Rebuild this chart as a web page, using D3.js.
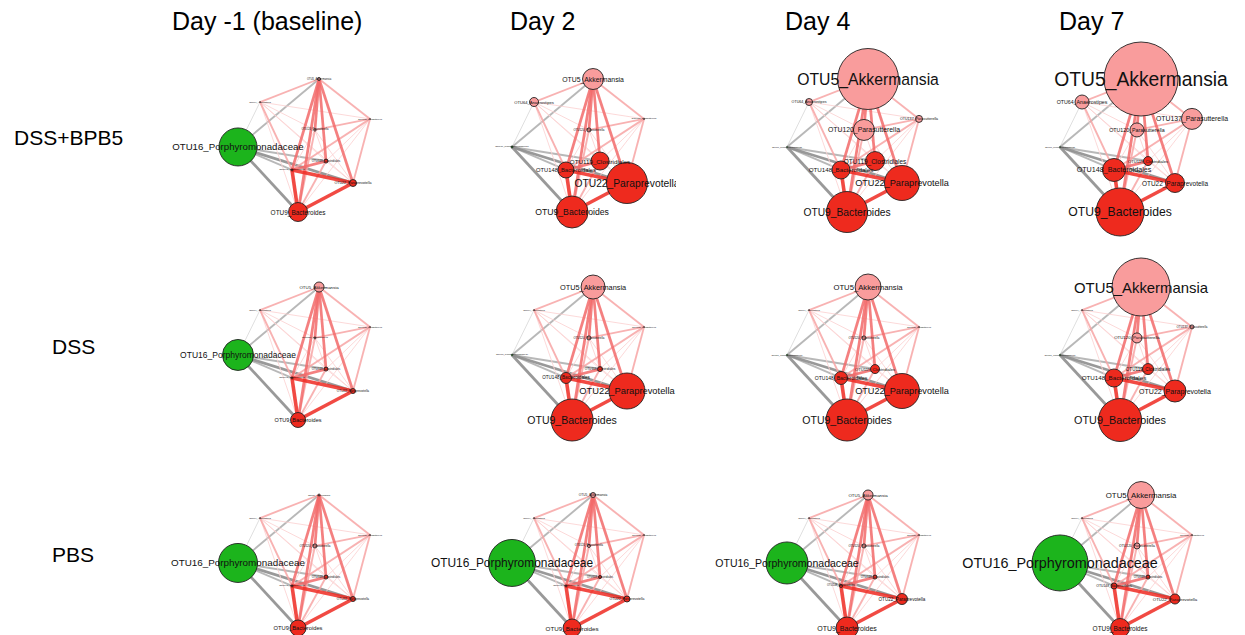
<!DOCTYPE html>
<html>
<head>
<meta charset="utf-8">
<script src="https://cdn.jsdelivr.net/npm/d3@7"></script>
<style>
  html, body { margin: 0; padding: 0; background: #ffffff; }
  svg { display: block; font-family: "Liberation Sans", Arial, sans-serif; }
</style>
</head>
<body>
<svg id="chart" width="1245" height="635"></svg>
<script>
// ---- data -------------------------------------------------------------
const days = ["Day -1 (baseline)", "Day 2", "Day 4", "Day 7"];
const treatments = ["DSS+BPB5", "DSS", "PBS"];

const nodeNames = [
  "OTU5_Akkermansia", "OTU64_Anaerostipes", "OTU137_Parasutterella",
  "OTU120_Parasutterella", "OTU16_Porphyromonadaceae", "OTU119_Clostridiales",
  "OTU148_Bacteroidales", "OTU22_Paraprevotella", "OTU9_Bacteroides"
];
// taxon group: 0 = Porphyromonadaceae, 1 = Akkermansia cluster, 2 = Bacteroides cluster
const nodeGroup = [1, 1, 1, 1, 0, 2, 2, 2, 2];
// shared network layout (unit square)
const layoutX = [0.614, 0.167, 1.0, 0.583, 0.0, 0.667, 0.409, 0.871, 0.455];
const layoutY = [0.0, 0.173, 0.30, 0.383, 0.511, 0.617, 0.684, 0.782, 1.0];

// node size (relative abundance) per treatment, per day, per node
const sizeDSSBPB5 = [
  [1.5, 0.6, 0.6, 1.2, 19, 2, 1, 3.5, 9.5],
  [10.5, 4.5, 0.8, 2, 1, 9, 8, 20.5, 16],
  [30.5, 3.5, 3.5, 10.5, 0.5, 9.5, 9, 17.5, 20.5],
  [37, 7, 10.5, 7, 0.5, 4.5, 11.5, 9.5, 24]
];
const sizeDSS = [
  [5, 0.6, 0.6, 1, 15.5, 2, 1, 2.5, 7.5],
  [12, 0.6, 0.6, 2, 0.8, 2.5, 5.5, 18, 21],
  [13, 0.6, 0.6, 2, 0.6, 4.5, 6.5, 17.5, 21],
  [29, 0.6, 2, 5, 0.6, 5.5, 9, 11, 21.5]
];
const sizePBS = [
  [1, 0.6, 0.6, 2, 19.5, 2, 1, 2.5, 8],
  [2.5, 0.6, 0.6, 1.5, 23.5, 1.5, 1, 3, 9],
  [5, 0.6, 0.6, 2, 21, 2, 1.5, 5.5, 11],
  [13.5, 0.6, 0.6, 3, 28, 2, 3, 5, 9.5]
];
const sizesByTreatment = [sizeDSSBPB5, sizeDSS, sizePBS];

// correlation edges: [source, target, strength 1..4]
const positiveEdges = [
  [0,1,2],[0,2,2],[0,3,3],[0,5,3],[0,6,3],[0,7,3],[0,8,3],
  [1,2,1],[1,3,1],[1,5,1],[1,6,2],[1,7,1],[1,8,1],
  [2,3,2],[2,5,1],[2,6,2],[2,7,2],[2,8,1],
  [3,5,1],[3,6,1],[3,7,1],[3,8,2],
  [5,6,3],[5,7,1],[5,8,2],
  [6,7,4],[6,8,4],[7,8,4]
];
const negativeEdges = [
  [4,0,2],[4,1,1],[4,5,2],[4,6,2],[4,7,3],[4,8,3]
];

// ---- layout -----------------------------------------------------------
const colOrigin = [238, 512, 787, 1060];
const rowOrigin = [79, 287, 495];
const netW = 132, netH = 133;
const colClip = [[130, 400], [400, 676], [680, 952], [952, 1245]];
const rowClip = [[38, 245], [245, 455], [455, 635]];

const svg = d3.select("#chart");

const rScale = d3.scaleLinear().domain([0, 40]).range([0, 40]);
const fontScale = d3.scaleLinear().domain([0, 10, 20, 37, 40]).range([2, 6.7, 10, 19.3, 21]);
const posColor = d3.scaleLinear().domain([1, 2, 3, 4])
  .range(["#fbd2d2", "#f7a4a4", "#f26a6a", "#ee2a22"]);
const posWidth = d3.scaleLinear().domain([1, 4]).range([1, 3.6]);
const negColor = d3.scaleLinear().domain([1, 2, 3]).range(["#dcdcdc", "#b0b0b0", "#8e8e8e"]);
const negWidth = d3.scaleLinear().domain([1, 3]).range([1, 2.8]);
const groupFill = ["#1cb41c", "#f99c9c", "#ee2a1e"];

const defs = svg.append("defs");

treatments.forEach((t, ri) => {
  days.forEach((d, ci) => {
    const clipId = `clip-${ri}-${ci}`;
    defs.append("clipPath").attr("id", clipId)
      .append("rect")
      .attr("x", colClip[ci][0]).attr("y", rowClip[ri][0])
      .attr("width", colClip[ci][1] - colClip[ci][0])
      .attr("height", rowClip[ri][1] - rowClip[ri][0]);

    const x = d3.scaleLinear().domain([0, 1]).range([colOrigin[ci], colOrigin[ci] + netW]);
    const y = d3.scaleLinear().domain([0, 1]).range([rowOrigin[ri], rowOrigin[ri] + netH]);
    const sizes = sizesByTreatment[ri][ci];

    const g = svg.append("g").attr("clip-path", `url(#${clipId})`);

    const nodes = nodeNames.map((name, i) => ({
      name, group: nodeGroup[i], cx: x(layoutX[i]), cy: y(layoutY[i]), size: sizes[i]
    }));

    // light edges first so strong ones sit on top
    const neg = negativeEdges.slice().sort((a, b) => a[2] - b[2]);
    const pos = positiveEdges.slice().sort((a, b) => a[2] - b[2]);

    g.append("g").selectAll("line").data(neg).join("line")
      .attr("x1", e => nodes[e[0]].cx).attr("y1", e => nodes[e[0]].cy)
      .attr("x2", e => nodes[e[1]].cx).attr("y2", e => nodes[e[1]].cy)
      .attr("stroke", e => negColor(e[2]))
      .attr("stroke-width", e => negWidth(e[2]))
      .attr("stroke-opacity", 0.9);

    g.append("g").selectAll("line").data(pos).join("line")
      .attr("x1", e => nodes[e[0]].cx).attr("y1", e => nodes[e[0]].cy)
      .attr("x2", e => nodes[e[1]].cx).attr("y2", e => nodes[e[1]].cy)
      .attr("stroke", e => posColor(e[2]))
      .attr("stroke-width", e => posWidth(e[2]))
      .attr("stroke-opacity", 0.85);

    g.append("g").selectAll("circle").data(nodes).join("circle")
      .attr("cx", n => n.cx).attr("cy", n => n.cy)
      .attr("r", n => rScale(n.size))
      .attr("fill", n => groupFill[n.group])
      .attr("stroke", "#222")
      .attr("stroke-width", n => n.size < 1 ? 0.6 : 0.9);

    g.append("g").selectAll("text").data(nodes).join("text")
      .attr("x", n => n.cx).attr("y", n => n.cy)
      .attr("text-anchor", "middle")
      .attr("dominant-baseline", "central")
      .attr("font-size", n => fontScale(n.size))
      .attr("fill", "#111")
      .text(n => n.name);
  });
});

// column headers
const headerX = [172, 510, 785, 1059];
svg.append("g").selectAll("text").data(days).join("text")
  .attr("x", (d, i) => headerX[i]).attr("y", 30)
  .attr("font-size", 25).attr("fill", "#000")
  .text(d => d);

// row labels
const rowLabelX = [14, 52, 52];
const rowLabelY = [145, 354, 562];
svg.append("g").selectAll("text").data(treatments).join("text")
  .attr("x", (d, i) => rowLabelX[i]).attr("y", (d, i) => rowLabelY[i])
  .attr("font-size", 21).attr("fill", "#000")
  .text(d => d);
</script>
</body>
</html>
